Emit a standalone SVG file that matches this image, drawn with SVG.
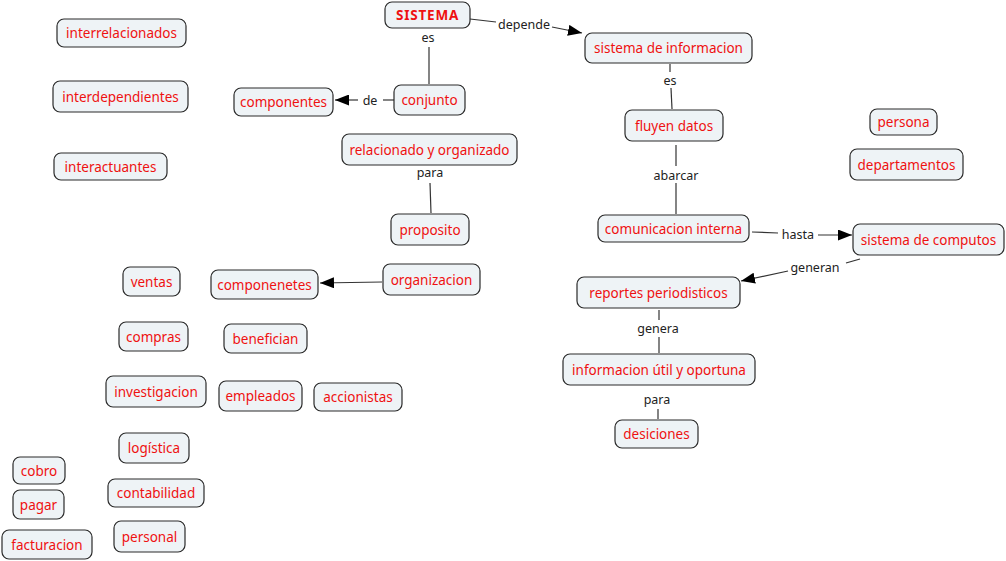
<svg xmlns="http://www.w3.org/2000/svg" width="1006" height="561" viewBox="0 0 1006 561">
<defs>
<style>
.n rect{fill:#eef3f6;stroke:#2a2a2a;stroke-width:1.2}
.n text{font-family:"Noto Sans","DejaVu Sans",sans-serif;font-size:13.5px;fill:#ee1111;text-anchor:middle;dominant-baseline:central}
.c line,.c path{stroke:#333;stroke-width:1.2;fill:none}
.l{font-family:"Noto Sans","DejaVu Sans",sans-serif;font-size:12.5px;fill:#222;text-anchor:middle;dominant-baseline:central}
</style>
<marker id="ah" viewBox="0 0 14 11" refX="14" refY="5.5" markerWidth="14" markerHeight="11" markerUnits="userSpaceOnUse" orient="auto">
<path d="M0,0 L14,5.5 L0,11 Z" fill="#000"/>
</marker>
</defs>
<rect width="1006" height="561" fill="#fff"/>
<g class="c">
<line x1="470" y1="19" x2="496" y2="22"/>
<line x1="552" y1="27" x2="582" y2="33" marker-end="url(#ah)"/>
<line x1="429" y1="47" x2="429" y2="84"/>
<line x1="394" y1="100" x2="383" y2="100"/>
<line x1="358" y1="100" x2="335" y2="100" marker-end="url(#ah)"/>
<line x1="670" y1="64" x2="670" y2="72"/>
<line x1="671" y1="88" x2="672" y2="109"/>
<line x1="676" y1="145" x2="676" y2="166"/>
<line x1="676" y1="183" x2="676" y2="214"/>
<line x1="430" y1="183" x2="431" y2="213"/>
<line x1="752" y1="232" x2="778" y2="233"/>
<line x1="818" y1="235" x2="852" y2="235" marker-end="url(#ah)"/>
<line x1="860" y1="259" x2="846" y2="263"/>
<line x1="788" y1="271" x2="741" y2="281" marker-end="url(#ah)"/>
<line x1="659" y1="310" x2="659" y2="320"/>
<line x1="659" y1="337" x2="659" y2="353"/>
<line x1="658" y1="409" x2="658" y2="419"/>
<line x1="382" y1="282" x2="320" y2="283" marker-end="url(#ah)"/>
</g>
<g>
<text class="l" x="524" y="24">depende</text>
<text class="l" x="428" y="37">es</text>
<text class="l" x="370" y="100">de</text>
<text class="l" x="670" y="80">es</text>
<text class="l" x="676" y="175">abarcar</text>
<text class="l" x="430" y="172">para</text>
<text class="l" x="798" y="234">hasta</text>
<text class="l" x="815" y="267">generan</text>
<text class="l" x="658" y="328">genera</text>
<text class="l" x="657" y="399">para</text>
</g>
<g id="sistema" class="n"><rect x="385" y="2" width="85" height="26" rx="7"/><text x="427.5" y="15" style="font-weight:bold;letter-spacing:0.8px">SISTEMA</text></g>
<g id="sisinfo" class="n"><rect x="585" y="33" width="167" height="30" rx="7"/><text x="668.5" y="48">sistema de informacion</text></g>
<g id="conjunto" class="n"><rect x="394" y="85" width="71" height="30" rx="7"/><text x="429.5" y="100">conjunto</text></g>
<g id="componentes" class="n"><rect x="234" y="88" width="99" height="28" rx="7"/><text x="283.5" y="102">componentes</text></g>
<g id="interrelacionados" class="n"><rect x="57" y="19" width="129" height="28" rx="7"/><text x="121.5" y="33">interrelacionados</text></g>
<g id="interdependientes" class="n"><rect x="53" y="81" width="135" height="31" rx="7"/><text x="120.5" y="96.5">interdependientes</text></g>
<g id="interactuantes" class="n"><rect x="54" y="153" width="113" height="27" rx="7"/><text x="110.5" y="166.5">interactuantes</text></g>
<g id="relacionado" class="n"><rect x="342" y="134" width="175" height="31" rx="7"/><text x="429.5" y="149.5">relacionado y organizado</text></g>
<g id="fluyen" class="n"><rect x="625" y="110" width="98" height="31" rx="7"/><text x="674" y="125.5">fluyen datos</text></g>
<g id="persona" class="n"><rect x="870" y="109" width="67" height="26" rx="7"/><text x="903.5" y="122">persona</text></g>
<g id="departamentos" class="n"><rect x="850" y="149" width="113" height="31" rx="7"/><text x="906.5" y="164.5">departamentos</text></g>
<g id="proposito" class="n"><rect x="391" y="214" width="78" height="31" rx="7"/><text x="430" y="229.5">proposito</text></g>
<g id="comunicacion" class="n"><rect x="598" y="215" width="151" height="27" rx="7"/><text x="673.5" y="228.5">comunicacion interna</text></g>
<g id="computos" class="n"><rect x="853" y="224" width="151" height="31" rx="7"/><text x="928.5" y="239.5">sistema de computos</text></g>
<g id="ventas" class="n"><rect x="123" y="267" width="57" height="29" rx="7"/><text x="151.5" y="281.5">ventas</text></g>
<g id="componenetes" class="n"><rect x="211" y="270" width="107" height="29" rx="7"/><text x="264.5" y="284.5">componenetes</text></g>
<g id="organizacion" class="n"><rect x="383" y="264" width="97" height="31" rx="7"/><text x="431.5" y="279.5">organizacion</text></g>
<g id="reportes" class="n"><rect x="577" y="277" width="163" height="31" rx="7"/><text x="658.5" y="292.5">reportes periodisticos</text></g>
<g id="compras" class="n"><rect x="119" y="322" width="69" height="29" rx="7"/><text x="153.5" y="336.5">compras</text></g>
<g id="benefician" class="n"><rect x="224" y="324" width="83" height="29" rx="7"/><text x="265.5" y="338.5">benefician</text></g>
<g id="investigacion" class="n"><rect x="106" y="376" width="100" height="31" rx="7"/><text x="156" y="391.5">investigacion</text></g>
<g id="empleados" class="n"><rect x="219" y="381" width="83" height="30" rx="7"/><text x="260.5" y="396">empleados</text></g>
<g id="accionistas" class="n"><rect x="314" y="383" width="88" height="28" rx="7"/><text x="358" y="397">accionistas</text></g>
<g id="informacion" class="n"><rect x="563" y="354" width="192" height="31" rx="7"/><text x="659" y="369.5">informacion útil y oportuna</text></g>
<g id="desiciones" class="n"><rect x="615" y="420" width="83" height="28" rx="7"/><text x="656.5" y="434">desiciones</text></g>
<g id="logistica" class="n"><rect x="119" y="433" width="70" height="30" rx="7"/><text x="154" y="448">logística</text></g>
<g id="cobro" class="n"><rect x="13" y="457" width="52" height="27" rx="7"/><text x="39" y="470.5">cobro</text></g>
<g id="contabilidad" class="n"><rect x="108" y="479" width="96" height="28" rx="7"/><text x="156" y="493">contabilidad</text></g>
<g id="pagar" class="n"><rect x="13" y="490" width="51" height="29" rx="7"/><text x="38.5" y="504.5">pagar</text></g>
<g id="personal" class="n"><rect x="114" y="521" width="71" height="31" rx="7"/><text x="149.5" y="536.5">personal</text></g>
<g id="facturacion" class="n"><rect x="2" y="530" width="90" height="29" rx="7"/><text x="47" y="544.5">facturacion</text></g>
</svg>
